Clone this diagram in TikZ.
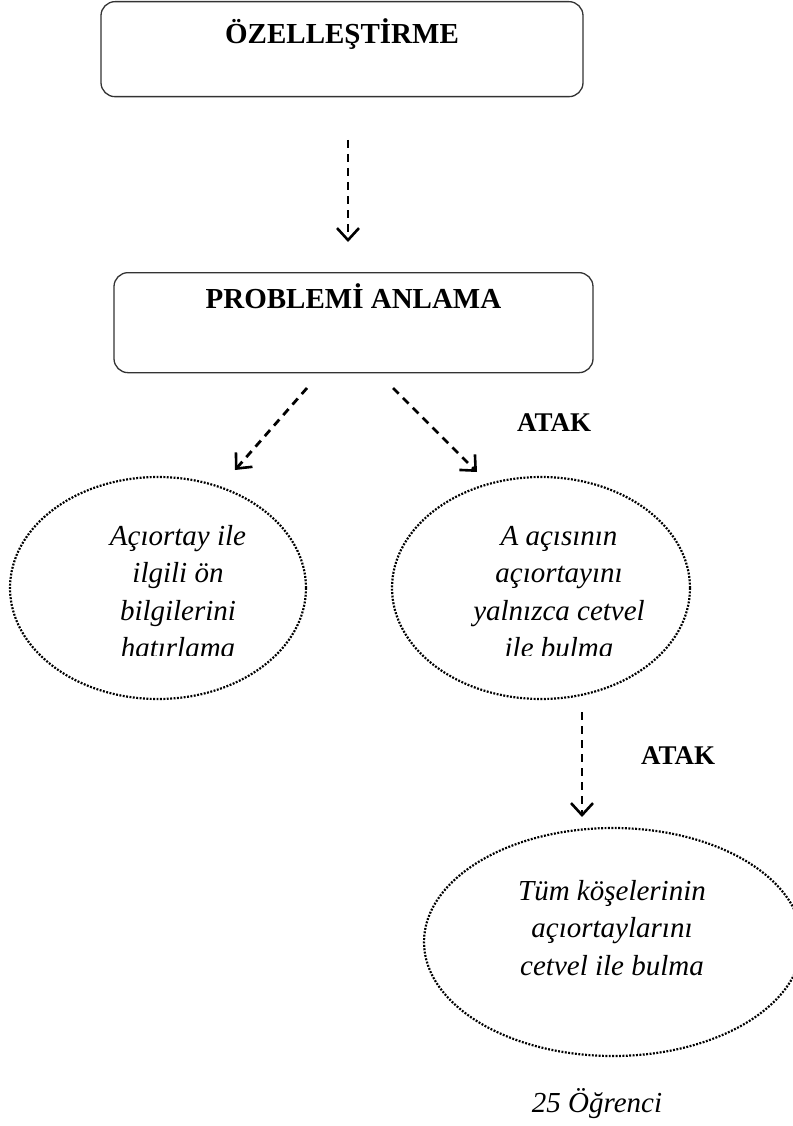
\documentclass[tikz,border=0pt]{standalone}
\usepackage{fontspec}
\setmainfont{Liberation Serif}
\usetikzlibrary{arrows.meta,shapes.geometric}
\begin{document}
\begin{tikzpicture}[x=1pt,y=-1pt,
  stagebox/.style={draw=black!80, line width=1.3pt, rounded corners=14pt,
    inner sep=0pt, anchor=north, font=\fontsize{29}{35}\selectfont\bfseries},
  idea/.style={draw, ellipse, line width=2.2pt, dash pattern=on 1.9pt off 1.5pt,
    inner sep=0pt},
  ideatext/.style={align=center, anchor=base, font=\fontsize{29}{37.5}\selectfont\itshape},
  flow/.style={line width=2.8pt, dash pattern=on 8pt off 6pt,
    -{Straight Barb[length=12pt,width=22pt,line width=2.6pt]}},
  tag/.style={font=\fontsize{27}{30}\selectfont\bfseries},
  note/.style={anchor=base, font=\fontsize{29}{35}\selectfont\itshape}
]
\useasboundingbox (0,0) rectangle (792,1126);

% stage boxes, titles sit near the top edge
\node[stagebox, minimum width=482pt, text height=42pt, text depth=53pt]
  (ozel) at (342,1) {ÖZELLEŞTİRME};
\node[stagebox, minimum width=479pt, text height=36pt, text depth=64pt]
  (anlama) at (353.5,272) {PROBLEMİ ANLAMA};

% dotted idea ellipses
\node[idea, minimum width=296pt, minimum height=222pt] (e1) at (158,588) {};
\node[idea, minimum width=298pt, minimum height=222pt] (e2) at (541,588) {};
\node[idea, minimum width=378pt, minimum height=228pt] (e3) at (613,942) {};

% ellipse texts, placed by the baseline of their last line;
% the two upper ones are cut off along that last line
\begin{scope}
  \clip (0,0) rectangle (792,655);
  \node[ideatext] (t1) at (178,657.5) {Açıortay ile\\ilgili ön\\bilgilerini\\hatırlama};
  \node[ideatext] (t2) at (559,657.5) {A açısının\\açıortayını\\yalnızca cetvel\\ile bulma};
\end{scope}
\node[ideatext] (t3) at (612,975) {Tüm köşelerinin\\açıortaylarını\\cetvel ile bulma};

% labels
\node[tag] (atak1) at (554,423) {ATAK};
\node[tag] (atak2) at (678,756) {ATAK};
\node[note] (count) at (597,1112) {25 Öğrenci};

% dashed connectors
\coordinate (a1s) at (348,140);  \coordinate (a1e) at (348,242);
\coordinate (a2s) at (307,388);  \coordinate (a2e) at (235,470);
\coordinate (a3s) at (393,388);  \coordinate (a3e) at (477,472);
\coordinate (a4s) at (582,712);  \coordinate (a4e) at (582,817);
\draw[flow] (a1s) -- (a1e);
\draw[flow] (a2s) -- (a2e);
\draw[flow] (a3s) -- (a3e);
\draw[flow] (a4s) -- (a4e);
\end{tikzpicture}
\end{document}
